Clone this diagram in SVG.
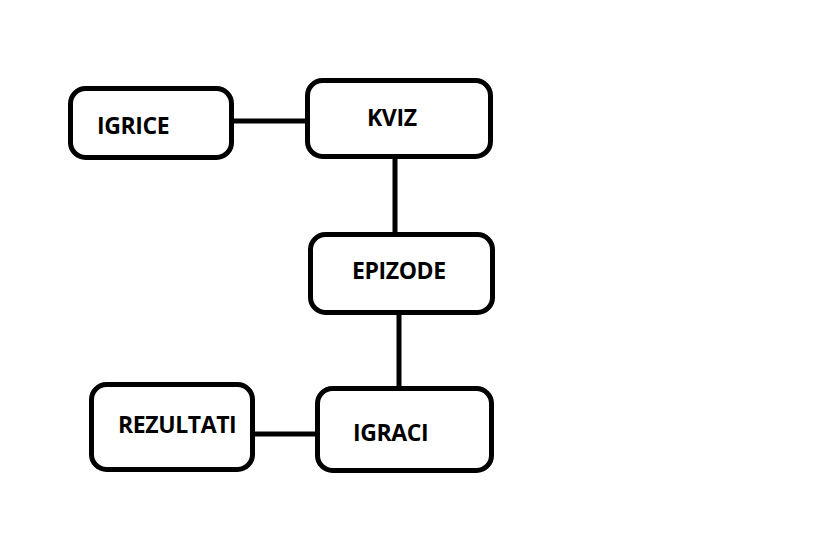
<svg xmlns="http://www.w3.org/2000/svg" width="833" height="542" viewBox="0 0 833 542">
<style>
.box{fill:#fff;stroke:#000;stroke-width:5}
.lbl{font-family:"Open Sans","Liberation Sans",sans-serif;font-weight:bold;font-size:23px;letter-spacing:-0.4px;fill:#000}
.conn line{stroke:#000;stroke-width:5}
</style>
<rect width="833" height="542" fill="#fff"/>
<g class="conn" id="connectors">
<line x1="233" y1="121" x2="307" y2="121"/>
<line x1="395" y1="157" x2="395" y2="235"/>
<line x1="399" y1="314" x2="399" y2="388"/>
<line x1="254" y1="434" x2="319" y2="434"/>
</g>
<g id="igrice"><rect class="box" x="70.5" y="88.5" width="161" height="69" rx="15"/><text class="lbl" x="97" y="134">IGRICE</text></g>
<g id="kviz"><rect class="box" x="307.5" y="80.5" width="183" height="76" rx="15"/><text class="lbl" x="367" y="126">KVIZ</text></g>
<g id="epizode"><rect class="box" x="310.5" y="234.5" width="182" height="78" rx="15"/><text class="lbl" x="352" y="279">EPIZODE</text></g>
<g id="igraci"><rect class="box" x="317.5" y="388.5" width="174" height="82" rx="15"/><text class="lbl" x="353" y="441">IGRACI</text></g>
<g id="rezultati"><rect class="box" x="91.5" y="384.5" width="161" height="85" rx="15"/><text class="lbl" x="118" y="433">REZULTATI</text></g>
</svg>
